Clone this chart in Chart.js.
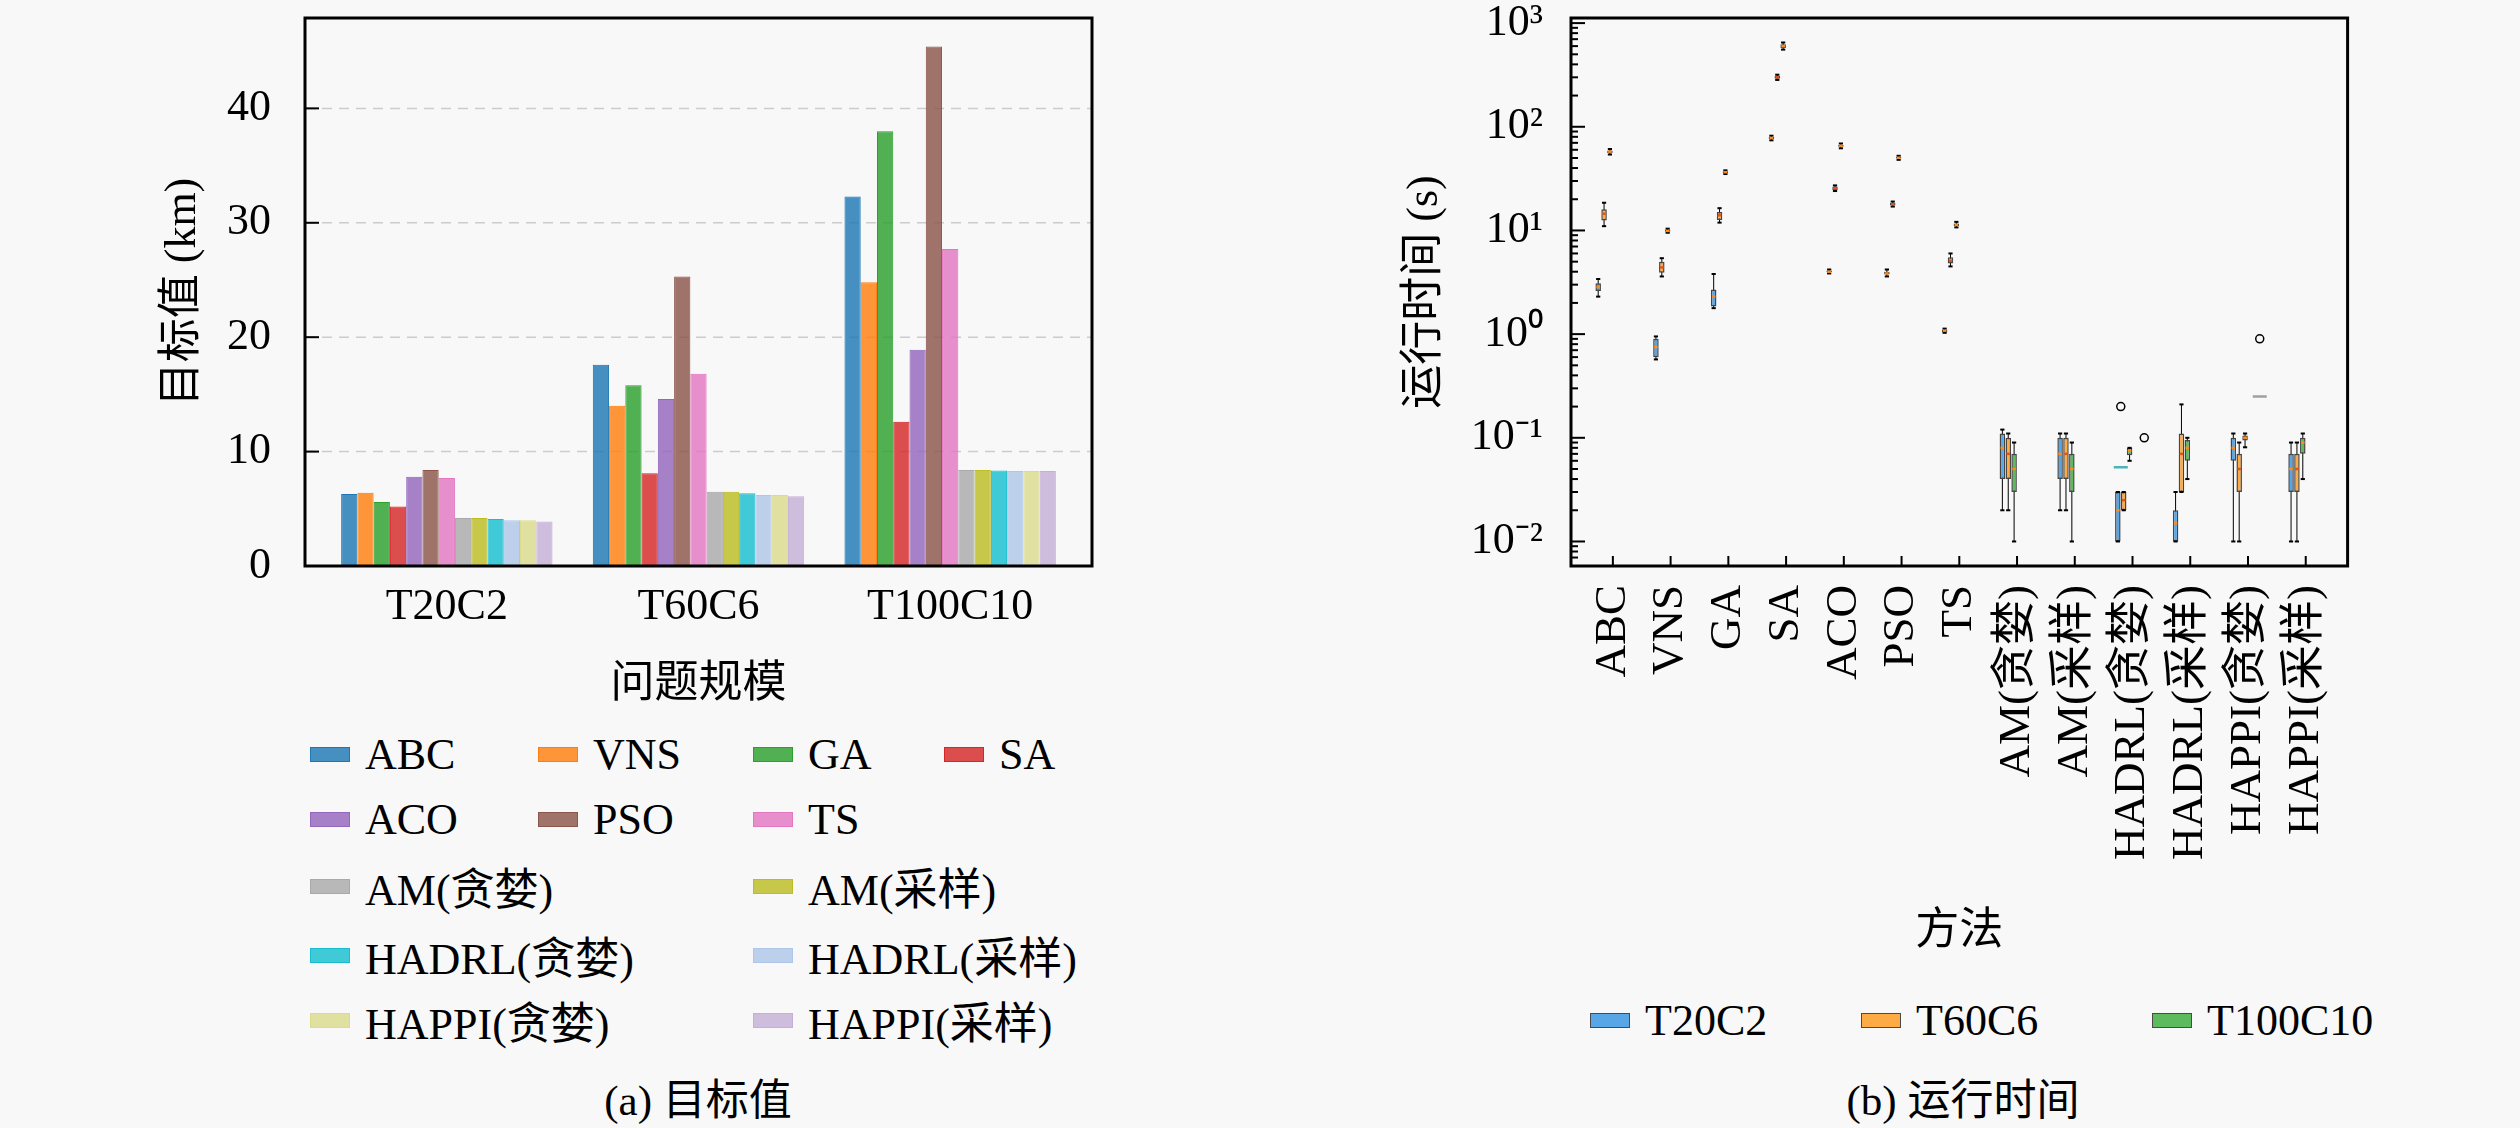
<!DOCTYPE html>
<html>
<head>
<meta charset="utf-8">
<script src="https://cdn.jsdelivr.net/npm/chart.js@4.4.1/dist/chart.umd.min.js"></script>
<style>
html, body { margin: 0; padding: 0; background: #f8f8f8; }
body { width: 2520px; height: 1128px; position: relative; overflow: hidden;
       font-family: 'Liberation Serif', 'Noto Sans CJK SC', serif; color: #000; }
#objChart { position: absolute; left: 150px; top: -12px; }
#timeChart { position: absolute; left: 1380px; top: -12px; }
.lg { position: absolute; height: 50px; font-size: 44px; white-space: nowrap;
      display: flex; align-items: center; }
.sw { width: 40px; height: 15px; margin-right: 15px; box-sizing: border-box; }
.cap { position: absolute; font-size: 43px; white-space: nowrap; transform: translate(-50%, -50%); }
</style>
</head>
<body>
<canvas id="objChart" width="960" height="732"></canvas>
<canvas id="timeChart" width="1000" height="972"></canvas>
<div id="legends"></div>
<div class="cap" style="left:698px;top:1096px;">(a) 目标值</div>
<div class="cap" style="left:1963px;top:1096px;">(b) 运行时间</div>
<script>
// ---- data ----
const methods = ['ABC', 'VNS', 'GA', 'SA', 'ACO', 'PSO', 'TS',
                 'AM(贪婪)', 'AM(采样)', 'HADRL(贪婪)', 'HADRL(采样)', 'HAPPI(贪婪)', 'HAPPI(采样)'];
const sizes = ['T20C2', 'T60C6', 'T100C10'];

// (a) objective value (km), one entry per method
const objT20C2   = [6.3, 6.4, 5.6, 5.2, 7.8, 8.4, 7.7, 4.2, 4.2, 4.1, 4.0, 4.0, 3.9];
const objT60C6   = [17.6, 14.0, 15.8, 8.1, 14.6, 25.3, 16.8, 6.5, 6.5, 6.35, 6.2, 6.2, 6.1];
const objT100C10 = [32.3, 24.8, 38.0, 12.6, 18.9, 45.4, 27.7, 8.4, 8.4, 8.35, 8.3, 8.3, 8.3];

// (b) run time (s) box plots: whisker low, q1, median, q3, whisker high
const lowT20C2  = [2.3, 0.57, 1.78, 74, 3.85, 3.6, 1.03, 0.02, 0.02, 0.01, 0.01, 0.01, 0.01];
const q1T20C2   = [2.6, 0.6, 1.85, 76, 3.95, 3.75, 1.05, 0.04, 0.04, 0.01, 0.01, 0.06, 0.03];
const medT20C2  = [2.85, 0.75, 2.3, 78, 4.0, 3.85, 1.08, 0.08, 0.07, 0.02, 0.015, 0.08, 0.05];
const q3T20C2   = [3.1, 0.9, 2.7, 80, 4.1, 4.0, 1.11, 0.11, 0.10, 0.03, 0.02, 0.10, 0.07];
const highT20C2 = [3.4, 0.95, 3.8, 82, 4.2, 4.2, 1.13, 0.12, 0.11, 0.03, 0.03, 0.11, 0.09];

const lowT60C6  = [11, 3.6, 11.9, 283, 24, 17, 4.5, 0.02, 0.02, 0.02, 0.03, 0.01, 0.01];
const q1T60C6   = [12.5, 3.9, 12.6, 290, 24.6, 17.4, 4.8, 0.04, 0.04, 0.02, 0.03, 0.03, 0.03];
const medT60C6  = [14.5, 4.4, 14, 300, 25.5, 17.9, 5.1, 0.07, 0.07, 0.025, 0.07, 0.05, 0.05];
const q3T60C6   = [16, 5.0, 15.1, 310, 26.5, 18.5, 5.5, 0.10, 0.10, 0.03, 0.11, 0.07, 0.07];
const highT60C6 = [18.5, 5.4, 16.4, 318, 27.2, 19, 6.0, 0.11, 0.11, 0.03, 0.21, 0.09, 0.09];

const lowT100C10  = [54, 9.5, 35, 555, 62, 48, 10.7, 0.01, 0.01, 0.06, 0.04, 0.081, 0.04];
const q1T100C10   = [56, 9.7, 35.8, 575, 64, 49.3, 11.0, 0.03, 0.03, 0.068, 0.06, 0.094, 0.07];
const medT100C10  = [57.5, 9.9, 36.5, 600, 65.5, 50.2, 11.3, 0.05, 0.05, 0.075, 0.08, 0.1, 0.09];
const q3T100C10   = [59, 10.2, 37.2, 625, 67, 51.2, 11.7, 0.07, 0.07, 0.08, 0.095, 0.105, 0.10];
const highT100C10 = [61, 10.4, 38, 650, 69, 52.5, 12.1, 0.09, 0.09, 0.08, 0.10, 0.11, 0.11];

// outliers: method index, size index, value
const outlierMethod = [9, 9, 11];
const outlierSize   = [0, 2, 2];
const outlierValue  = [0.2, 0.1, 0.9];
const flatMethod = [9, 11];
const flatSize   = [0, 2];
const flatValue  = [0.052, 0.25];

const yTitleA = '目标值 (km)';
const xTitleA = '问题规模';
const yTitleB = '运行时间 (s)';
const xTitleB = '方法';

// ---- style ----
const methodColors = ['#1f77b4', '#ff7f0e', '#2ca02c', '#d62728', '#9467bd', '#8c564b', '#e377c2',
                      '#a9a9a9', '#bcbd22', '#17becf', '#aec7e8', '#dbdb8d', '#c5b0d5'];
const sizeColors = ['#58a6e6', '#fdab45', '#5dbb5e'];
const FONT = "'Liberation Serif', 'Noto Sans CJK SC', serif";

Chart.defaults.font.family = FONT;
Chart.defaults.color = '#000';
Chart.defaults.animation = false;

function rgba(hex, a) {
    const n = parseInt(hex.slice(1), 16);
    return `rgba(${(n >> 16) & 255},${(n >> 8) & 255},${n & 255},${a})`;
}

function supText(e) {
    const d = '⁰¹²³⁴⁵⁶⁷⁸⁹';
    return String(e).split('').map(c => c === '-' ? '⁻' : d[+c]).join('');
}

// frame, inward ticks and dashed grid (matplotlib look)
const frameTicks = {
    id: 'frameTicks',
    beforeDatasetsDraw(chart, args, o) {
        if (!o.grid) return;
        const {ctx, chartArea: a} = chart;
        const y = chart.scales.y;
        ctx.save();
        ctx.strokeStyle = '#cccccc';
        ctx.lineWidth = 1.5;
        ctx.setLineDash([10, 7]);
        y.ticks.forEach(t => {
            if (t.value <= 0) return;
            const p = y.getPixelForValue(t.value);
            ctx.beginPath();
            ctx.moveTo(a.left - o.inset, p);
            ctx.lineTo(a.right + o.inset, p);
            ctx.stroke();
        });
        ctx.restore();
    },
    afterDraw(chart, args, o) {
        const {ctx, chartArea: a} = chart;
        const L = a.left - o.inset, R = a.right + o.inset;
        const y = chart.scales.y;
        ctx.save();
        ctx.strokeStyle = '#000';
        ctx.lineWidth = 2;
        y.ticks.forEach(t => {
            let len = o.major;
            if (y.type === 'logarithmic') {
                const e = Math.log10(t.value);
                const m = t.value / Math.pow(10, Math.floor(e + 1e-9));
                if (Math.abs(e - Math.round(e)) < 1e-6) len = o.major;
                else if (Math.abs(m - Math.round(m)) < 1e-6) len = o.minor;
                else return;
            }
            const p = y.getPixelForValue(t.value);
            ctx.beginPath();
            ctx.moveTo(L, p);
            ctx.lineTo(L + len, p);
            ctx.stroke();
        });
        if (o.xTick) {
            const x = chart.scales.x;
            x.ticks.forEach((t, i) => {
                const p = x.getPixelForTick(i);
                ctx.beginPath();
                ctx.moveTo(p, a.bottom);
                ctx.lineTo(p, a.bottom - o.xTick);
                ctx.stroke();
            });
        }
        ctx.lineWidth = 3;
        ctx.strokeRect(L, a.top, R - L, a.bottom - a.top);
        ctx.restore();
    }
};

// whisker caps and median lines on top of the box bars
const boxExtras = {
    id: 'boxExtras',
    afterDatasetsDraw(chart, args, o) {
        if (!o.median) return;
        const {ctx} = chart;
        const y = chart.scales.y;
        ctx.save();
        o.median.forEach((meds, k) => {
            const meta = chart.getDatasetMeta(k);
            meta.data.forEach((el, i) => {
                const w = el.width;
                ctx.strokeStyle = '#000';
                ctx.lineWidth = 2;
                [o.low[k][i], o.high[k][i]].forEach(v => {
                    const p = y.getPixelForValue(v);
                    ctx.beginPath();
                    ctx.moveTo(el.x - w * 0.38, p);
                    ctx.lineTo(el.x + w * 0.38, p);
                    ctx.stroke();
                });
                const pm = y.getPixelForValue(meds[i]);
                ctx.strokeStyle = k === 1 ? '#e0561a' : '#ff8c1a';
                ctx.lineWidth = 2.5;
                ctx.beginPath();
                ctx.moveTo(el.x - w / 2 + 1, pm);
                ctx.lineTo(el.x + w / 2 - 1, pm);
                ctx.stroke();
            });
        });
        ctx.restore();
    }
};

// ---- (a) objective bar chart ----
const objBySize = [objT20C2, objT60C6, objT100C10];
new Chart(document.getElementById('objChart'), {
    type: 'bar',
    plugins: [frameTicks],
    data: {
        labels: sizes,
        datasets: methods.map((m, i) => ({
            label: m,
            data: objBySize.map(arr => arr[i]),
            backgroundColor: rgba(methodColors[i], 0.82),
            borderColor: rgba(methodColors[i], 1),
            borderWidth: 1,
            barPercentage: 1.0,
            categoryPercentage: 0.84
        }))
    },
    options: {
        responsive: false,
        maintainAspectRatio: false,
        layout: { padding: { top: 30, right: 34, left: 0, bottom: 0 } },
        plugins: {
            legend: { display: false },
            tooltip: { enabled: false },
            frameTicks: { inset: 16, major: 14, grid: true }
        },
        scales: {
            x: {
                grid: { display: false, drawTicks: false },
                border: { display: false },
                ticks: { font: { size: 44 }, padding: 15 },
                title: { display: true, text: xTitleA, font: { size: 44 }, padding: { top: 0, bottom: 8 } },
                afterFit: s => { s.height = 154; }
            },
            y: {
                min: 0,
                max: 47.9,
                grid: { display: true, drawOnChartArea: false, color: 'rgba(0,0,0,0)',
                        drawTicks: true, tickLength: 48, tickColor: 'rgba(0,0,0,0)' },
                border: { display: false },
                ticks: { stepSize: 10, includeBounds: false, font: { size: 44 }, padding: 2 },
                title: { display: true, text: yTitleA, font: { size: 44 }, padding: { top: 7, bottom: 0 } },
                afterFit: s => { s.width = 171; }
            }
        }
    }
});

// ---- (b) run time box plots ----
const lowBySize  = [lowT20C2, lowT60C6, lowT100C10];
const q1BySize   = [q1T20C2, q1T60C6, q1T100C10];
const medBySize  = [medT20C2, medT60C6, medT100C10];
const q3BySize   = [q3T20C2, q3T60C6, q3T100C10];
const highBySize = [highT20C2, highT60C6, highT100C10];

const catPct = 0.61;
const slot = catPct / 3;
const timeSets = [];
sizes.forEach((s, k) => {
    timeSets.push({
        type: 'bar',
        label: s,
        stack: 's' + k,
        data: methods.map((m, i) => [q1BySize[k][i], q3BySize[k][i]]),
        backgroundColor: sizeColors[k],
        borderColor: '#454545',
        borderWidth: 1.5,
        borderSkipped: false,
        barPercentage: 0.94,
        categoryPercentage: catPct
    });
});
sizes.forEach((s, k) => {
    timeSets.push({
        type: 'bar',
        label: s + ' whisker',
        stack: 's' + k,
        data: methods.map((m, i) => [lowBySize[k][i], highBySize[k][i]]),
        backgroundColor: '#000',
        borderWidth: 0,
        barPercentage: 0.17,
        categoryPercentage: catPct
    });
});
timeSets.push({
    type: 'scatter',
    label: 'outliers',
    xAxisID: 'xo',
    data: outlierValue.map((v, j) => ({ x: outlierMethod[j] + (outlierSize[j] - 1) * slot, y: v })),
    pointStyle: 'circle',
    pointRadius: 4,
    backgroundColor: 'rgba(0,0,0,0)',
    borderColor: '#000',
    borderWidth: 1.5,
    showLine: false
});
timeSets.push({
    type: 'scatter',
    label: 'flat',
    xAxisID: 'xo',
    data: flatValue.map((v, j) => ({ x: flatMethod[j] + (flatSize[j] - 1) * slot, y: v })),
    pointStyle: 'line',
    pointRadius: 7,
    borderColor: ['#4fb3b3', '#a0a0a0'],
    borderWidth: 2.5,
    showLine: false
});

new Chart(document.getElementById('timeChart'), {
    type: 'bar',
    plugins: [frameTicks, boxExtras],
    data: { labels: methods, datasets: timeSets },
    options: {
        responsive: false,
        maintainAspectRatio: false,
        layout: { padding: { top: 30, right: 33, left: 0, bottom: 0 } },
        plugins: {
            legend: { display: false },
            tooltip: { enabled: false },
            frameTicks: { inset: 13, major: 14, minor: 7, xTick: 10 },
            boxExtras: { median: medBySize, low: lowBySize, high: highBySize }
        },
        scales: {
            x: {
                stacked: true,
                grid: { display: false, drawTicks: false },
                border: { display: false },
                ticks: { font: { size: 45 }, padding: 19, minRotation: 90, maxRotation: 90, autoSkip: false },
                title: { display: true, text: xTitleB, font: { size: 44 }, padding: { top: 0, bottom: 1 } },
                afterFit: s => { s.height = 394; }
            },
            xo: {
                type: 'linear',
                display: false,
                offset: false,
                min: -0.5,
                max: methods.length - 0.5
            },
            y: {
                type: 'logarithmic',
                stacked: false,
                min: 0.0058,
                max: 1120,
                grid: { display: true, drawOnChartArea: false, color: 'rgba(0,0,0,0)',
                        drawTicks: true, tickLength: 39, tickColor: 'rgba(0,0,0,0)' },
                border: { display: false },
                ticks: {
                    autoSkip: false,
                    font: { size: 44 },
                    padding: 2,
                    callback: v => {
                        const e = Math.log10(v);
                        return Math.abs(e - Math.round(e)) < 1e-9 ? '10' + supText(Math.round(e)) : '';
                    }
                },
                title: { display: true, text: yTitleB, font: { size: 44 }, padding: { top: 19, bottom: 0 } },
                afterFit: s => { s.width = 204; }
            }
        }
    }
});

// ---- legends (html) ----
const legends = document.getElementById('legends');
function addEntry(x, yc, fill, edge, text) {
    const d = document.createElement('div');
    d.className = 'lg';
    d.style.left = x + 'px';
    d.style.top = (yc - 25) + 'px';
    const sw = document.createElement('span');
    sw.className = 'sw';
    sw.style.background = fill;
    sw.style.border = '1px solid ' + edge;
    d.appendChild(sw);
    d.appendChild(document.createTextNode(text));
    legends.appendChild(d);
}
const legendRows = [754, 819, 886, 955, 1020];
methods.forEach((m, i) => {
    const fill = rgba(methodColors[i], 0.82), edge = rgba(methodColors[i], 1);
    if (i < 7) {
        addEntry([310, 538, 753, 944][i % 4], legendRows[Math.floor(i / 4)], fill, edge, m);
    } else {
        const j = i - 7;
        addEntry([310, 753][j % 2], legendRows[2 + Math.floor(j / 2)], fill, edge, m);
    }
});
sizes.forEach((s, k) => {
    addEntry([1590, 1861, 2152][k], 1020, sizeColors[k], '#4a4a4a', s);
});
</script>
</body>
</html>
